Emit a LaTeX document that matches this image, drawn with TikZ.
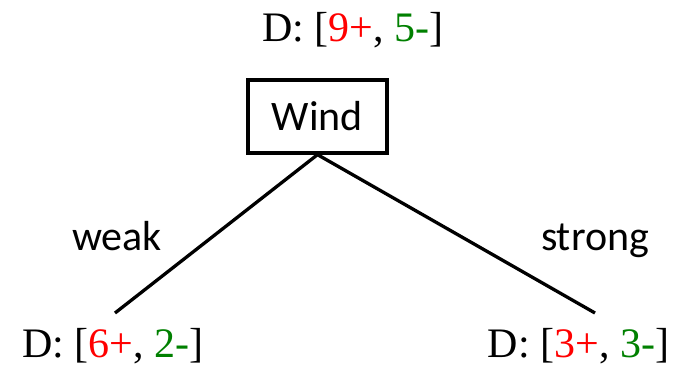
\documentclass[tikz,border=0pt]{standalone}
\usepackage{fontspec}
\setmainfont{Liberation Serif}
\newfontfamily\calfont{Carlito}
\definecolor{posred}{RGB}{255,0,0}
\definecolor{neggreen}{RGB}{0,128,0}
\begin{document}
\begin{tikzpicture}[x=1pt,y=-1pt,
  dtext/.style={anchor=base,inner sep=0pt,font=\fontsize{42}{48}\selectfont},
  ltext/.style={anchor=base,inner sep=0pt,font=\calfont\fontsize{42}{48}\selectfont},
  attrbox/.style={draw,line width=3.3pt,minimum width=139pt,minimum height=73pt,inner sep=0pt,font=\calfont\fontsize{42}{48}\selectfont},
  edge/.style={line width=3.3pt}]
\useasboundingbox (0,0) rectangle (674,366);
\node[dtext] (top) at (353,42) {D: [\textcolor{posred}{9+}, \textcolor{neggreen}{5-}]};
\node[attrbox] (wind) at (317.5,116.5) {Wind};
\coordinate (la) at (115,313);
\coordinate (ra) at (595,313);
\draw[edge] (wind.south) -- (la);
\draw[edge] (wind.south) -- (ra);
\node[ltext] (weak) at (117,250) {weak};
\node[ltext] (strong) at (595,250) {strong};
\node[dtext] (left) at (113,357) {D: [\textcolor{posred}{6+}, \textcolor{neggreen}{2-}]};
\node[dtext] (right) at (578.5,357) {D: [\textcolor{posred}{3+}, \textcolor{neggreen}{3-}]};
\end{tikzpicture}
\end{document}
